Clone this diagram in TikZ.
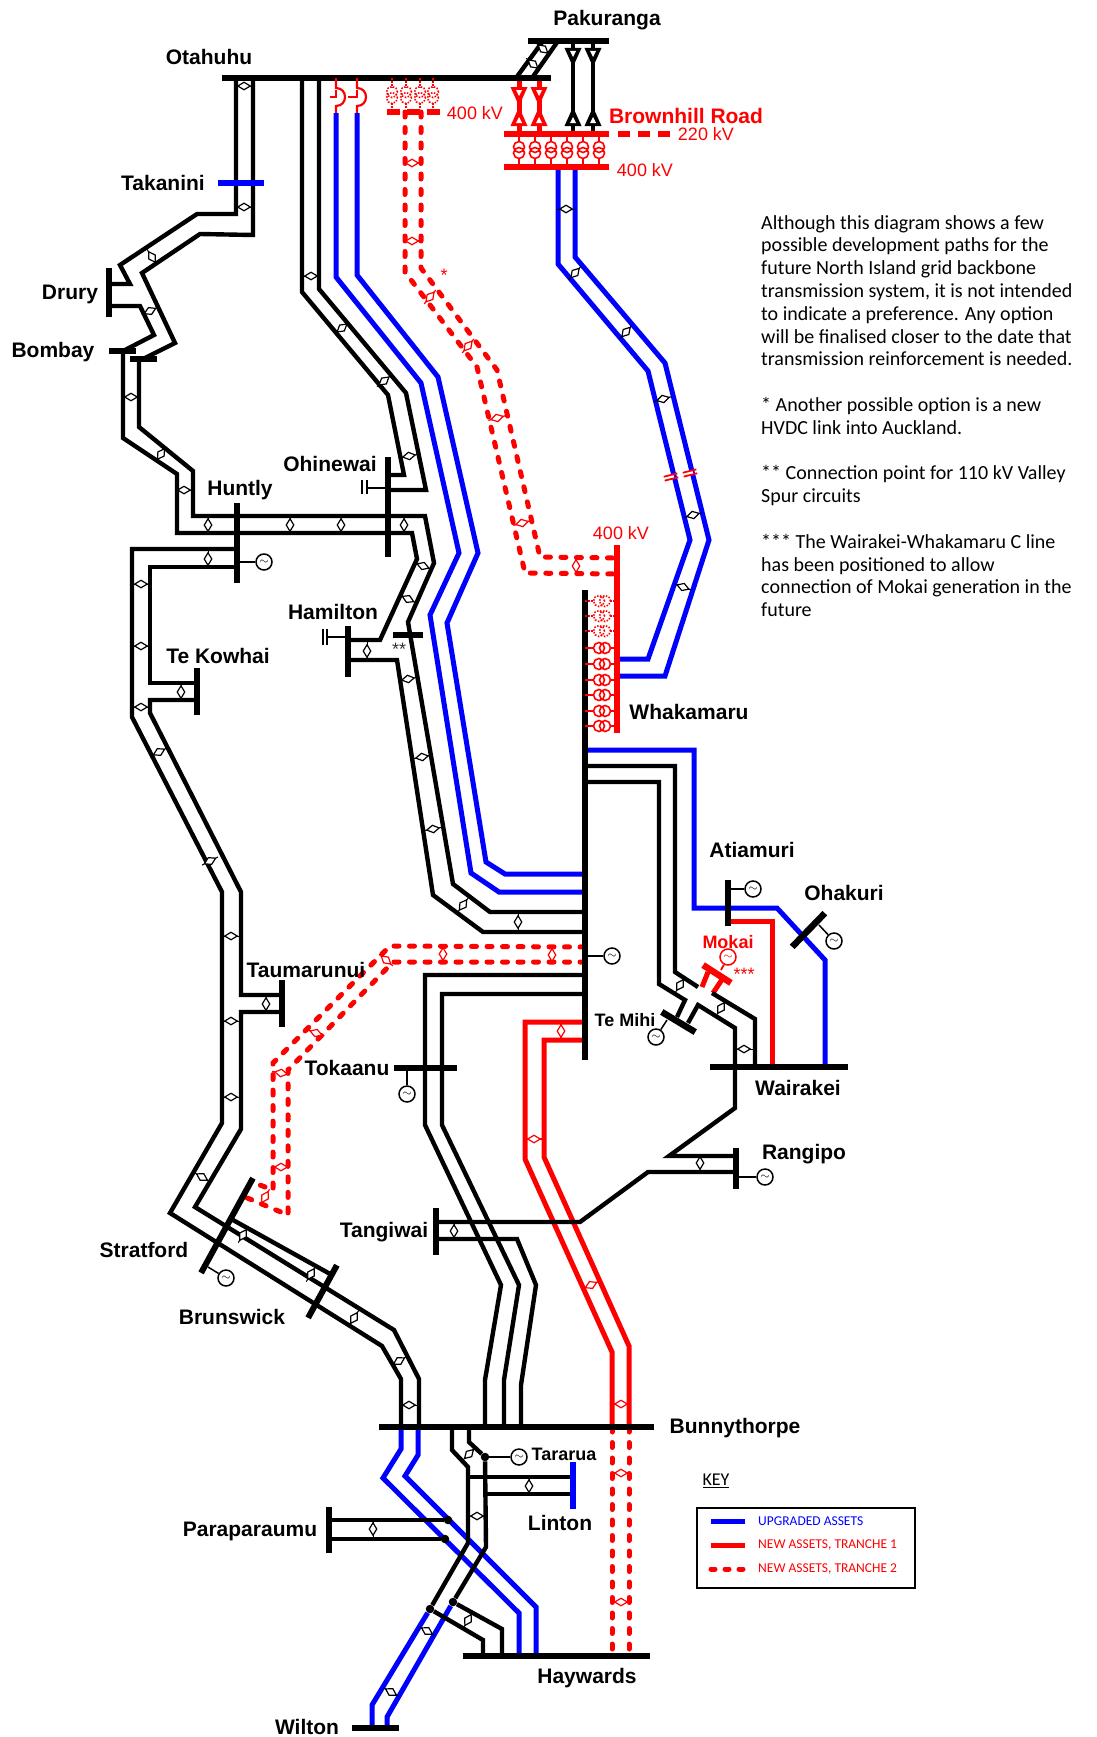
\documentclass[tikz,border=0pt]{standalone}
\usepackage{xcolor}
\usepackage{fontspec}
\setmainfont{Carlito}
\setsansfont{Liberation Sans}
\usetikzlibrary{shapes.geometric, positioning, backgrounds}

\newcommand{\conedown}[3]{\fill[#3] (#1-8.5,#2) -- (#1+8.5,#2) -- (#1,#2+19) -- cycle; \fill[white] (#1-3,#2+3) -- (#1+3,#2+3) -- (#1,#2+9) -- cycle;}
\newcommand{\coneup}[3]{\fill[#3] (#1-8.5,#2) -- (#1+8.5,#2) -- (#1,#2-19) -- cycle; \fill[white] (#1-3,#2-3) -- (#1+3,#2-3) -- (#1,#2-9) -- cycle;}

\begin{document}
\begin{tikzpicture}[
    x=1pt, y=-1pt,
    hbus/.style={fill=black, inner sep=0pt, minimum height=6.5, minimum width=#1},
    vbus/.style={fill=black, inner sep=0pt, minimum width=6.5, minimum height=#1},
    line/.style={line width=4.4, draw=black},
    newup/.style={line width=5, draw=blue},
    newred/.style={line width=5, draw=red},
    newdash/.style={line width=5, draw=red, line cap=round, dash pattern=on 5pt off 10.5pt},
    stub/.style={line width=1.5, draw=black},
    redstub/.style={line width=1.8, draw=red},
    dotstub/.style={line width=1.5, draw=red, dash pattern=on 1.5pt off 1.5pt},
    gen/.style={draw, circle, line width=1.5, fill=white, minimum size=16, inner sep=0pt, font=\fontsize{12}{12}\selectfont},
    xfmr/.style={draw=red, circle, line width=1.6, minimum size=11, inner sep=0pt},
    xfdot/.style={xfmr, dash pattern=on 1.5pt off 1.5pt},
    busdot/.style={circle, fill=black, minimum size=8.5, inner sep=0pt},
    tie/.style={draw=black, fill=white, diamond, shape aspect=1.7, line width=1.2, minimum width=13, minimum height=8, inner sep=0pt},
    place/.style={font=\sffamily\bfseries\fontsize{21}{21}\selectfont, inner sep=0pt},
    small/.style={font=\sffamily\bfseries\fontsize{18}{18}\selectfont, inner sep=0pt},
    volt/.style={font=\sffamily\fontsize{18}{18}\selectfont, text=red, inner sep=0pt},
    keytext/.style={font=\fontsize{13.5}{13.5}\selectfont, anchor=west, inner sep=0pt}
]
\useasboundingbox (0,0) rectangle (1097,1737);

% Buses
\node[hbus=329] (otahuhu) at (386.5,78) {};
\node[hbus=81] (pakuranga) at (568.5,41) {};
\node[hbus=105, fill=red] (brown220) at (556.5,134) {};
\node[hbus=105, fill=red] (brown400) at (556.5,167) {};
\node[hbus=46, fill=blue] (takanini) at (241,183) {};
\node[vbus=49] (drury) at (109,292.5) {};
\node[hbus=27] (bombaya) at (122.5,351) {};
\node[hbus=27] (bombayb) at (143.5,359) {};
\node[vbus=80] (huntly) at (237,543) {};
\node[vbus=100] (ohinewai) at (388,507) {};
\node[vbus=51] (hamilton) at (348,651.5) {};
\node[hbus=30] (valley) at (408,635) {};
\node[vbus=47] (tekowhai) at (197,691.5) {};
\node[vbus=47] (taumarunui) at (282,1003.5) {};
\node[hbus=63] (tokaanu) at (425.5,1068) {};
\node[vbus=47] (tangiwai) at (436,1231.5) {};
\node[vbus=41] (rangipo) at (736,1168.5) {};
\node[vbus=470] (whakamaru) at (585,825) {};
\node[vbus=188, fill=red] (whakared) at (617,639) {};
\node[vbus=46] (atiamuri) at (728,903) {};
\node[hbus=138] (wairakei) at (779,1067) {};
\node[hbus=275] (bunnythorpe) at (516.5,1427) {};
\node[hbus=187] (haywards) at (556.5,1656) {};
\node[vbus=47, fill=blue] (linton) at (573,1485.5) {};
\node[vbus=46] (paraparaumu) at (329,1530) {};
\node[hbus=47] (wilton) at (375.5,1728) {};
\node[hbus=108, rotate=61.3, minimum height=6] (stratford) at (227,1225.5) {};
\node[hbus=60, rotate=61.3, minimum height=6] (brunswick) at (322.5,1291.5) {};
\node[hbus=33, rotate=-32.7, fill=red] (mokai) at (717,974) {};
\node[hbus=39, rotate=-31] (temihi) at (678.5,1022) {};
\node[hbus=47, rotate=45.9] (ohakuri) at (808.5,930) {};
\coordinate (otahuhu400) at (413.5,112);

% Junction dots
\node[busdot] (dotpara) at (448,1520) {};
\node[busdot] (dotparb) at (445,1539) {};
\node[busdot] (dottar) at (485,1457) {};
\node[busdot] (dotwila) at (430,1609) {};
\node[busdot] (dotwilb) at (453,1602) {};

\begin{scope}[on background layer]
% Upgraded assets
\draw[newup] (336,113) -- (336,277) -- (421,383) -- (459,553) -- (430,615) -- (471,873) -- (499,892) -- (whakamaru |- 0,892);
\draw[newup] (357,113) -- (357,275) -- (438,377) -- (478,553) -- (447,623) -- (486,862) -- (505,874) -- (whakamaru |- 0,874);
\draw[newup] (brown400 -| 558,0) -- (558,264) -- (648,371) -- (690,540) -- (648,659) -- (whakared |- 0,659);
\draw[newup] (brown400 -| 575,0) -- (575,257) -- (665,363) -- (709,540) -- (665,676) -- (whakared |- 0,676);
\draw[newup] (whakamaru |- 0,750) -- (694,750) -- (694,908) -- (777,908) -- (825,960) -- (wairakei -| 825,0);
\draw[newup] (bunnythorpe -| 401,0) -- (401,1449) -- (383,1478) -- (519,1613) -- (haywards -| 519,0);
\draw[newup] (bunnythorpe -| 418,0) -- (418,1455) -- (405,1476) -- (536,1607) -- (haywards -| 536,0);
\draw[newup] (dotwila) -- (372,1705) -- (wilton -| 372,0);
\draw[newup] (dotwilb) -- (387,1717) -- (wilton -| 387,0);

% New assets, tranche 1
\draw[newred] (whakamaru |- 0,1022) -- (525,1022) -- (525,1159) -- (612,1352) -- (bunnythorpe -| 612,0);
\draw[newred] (whakamaru |- 0,1040) -- (544,1040) -- (544,1157) -- (629,1346) -- (bunnythorpe -| 629,0);
\draw[newred] (atiamuri |- 0,921) -- (772,921) -- (wairakei -| 772,0);
\draw[newred] (702,987) -- (708,972);
\draw[newred] (713,993) -- (723,978);

% New assets, tranche 2
\draw[newdash] (otahuhu400 -| 405,0) -- (405,272) -- (477,367) -- (525,573) -- (whakared |- 0,574);
\draw[newdash] (otahuhu400 -| 421,0) -- (421,268) -- (497,370) -- (540,557) -- (whakared |- 0,558);
\draw[newdash] (whakamaru |- 0,947) -- (390,946) -- (273,1063) -- (273,1190) -- (252,1182);
\draw[newdash] (whakamaru |- 0,962) -- (393,962) -- (288,1070) -- (288,1215) -- (245,1197);
\draw[newdash] (bunnythorpe -| 612,0) -- (haywards -| 612,0);
\draw[newdash] (bunnythorpe -| 629,0) -- (haywards -| 629,0);

% Existing lines
\draw[line] (otahuhu -| 236,0) -- (236,214) -- (197,214) -- (120,265) -- (130,284) -- (drury |- 0,284);
\draw[line] (otahuhu -| 253,0) -- (253,235) -- (200,234) -- (142,273) -- (175,343) -- (145,358);
\draw[line] (drury |- 0,306) -- (140,306) -- (154,335) -- (125,350);
\draw[line] (bombaya -| 123,0) -- (123,438) -- (177,474) -- (177,533) -- (412,533) -- (417,559) -- (380,640) -- (hamilton |- 0,640);
\draw[line] (bombayb -| 139,0) -- (139,427) -- (193,471) -- (193,516) -- (425,516) -- (434,563) -- (408,622) -- (453,884) -- (490,912) -- (whakamaru |- 0,912);
\draw[line] (hamilton |- 0,660) -- (397,660) -- (433,895) -- (483,932) -- (whakamaru |- 0,932);
\draw[line] (otahuhu -| 302,0) -- (302,292) -- (388,395) -- (404,475) -- (ohinewai |- 0,475);
\draw[line] (otahuhu -| 319,0) -- (319,289) -- (406,393) -- (426,490) -- (ohinewai |- 0,490);
\draw[line] (huntly |- 0,549) -- (132,549) -- (132,717) -- (222,892) -- (222,1123) -- (170,1213) -- (382,1346) -- (401,1379) -- (bunnythorpe -| 401,0);
\draw[line] (huntly |- 0,567) -- (150,567) -- (150,683) -- (tekowhai |- 0,683);
\draw[line] (tekowhai |- 0,700) -- (150,700) -- (150,713) -- (241,892) -- (241,995) -- (taumarunui |- 0,995);
\draw[line] (taumarunui |- 0,1012) -- (241,1012) -- (241,1129) -- (195,1207) -- (394,1330) -- (419,1379) -- (bunnythorpe -| 419,0);
\draw[line] (233,1220) -- (332,1275);
\draw[line] (whakamaru |- 0,975) -- (425,975) -- (425,1125) -- (501,1285) -- (485,1380) -- (bunnythorpe -| 485,0);
\draw[line] (whakamaru |- 0,994) -- (442,994) -- (442,1125) -- (519,1285) -- (504,1380) -- (bunnythorpe -| 504,0);
\draw[line] (tangiwai |- 0,1239) -- (517,1239) -- (536,1285) -- (521,1385) -- (bunnythorpe -| 521,0);
\draw[line] (tangiwai |- 0,1222) -- (580,1222) -- (648,1172) -- (rangipo |- 0,1172);
\draw[line] (rangipo |- 0,1156) -- (669,1156) -- (735,1108) -- (735,1028) -- (698,1005) -- (688,1023);
\draw[line] (whakamaru |- 0,766) -- (675,766) -- (675,972) -- (698,987);
\draw[line] (whakamaru |- 0,782) -- (659,782) -- (659,984) -- (685,1000) -- (677,1017);
\draw[line] (712,993) -- (755,1019) -- (wairakei -| 755,0);
\draw[line] (bunnythorpe -| 452,0) -- (452,1450) -- (468,1467) -- (468,1543) -- (dotwila) -- (483,1640) -- (haywards -| 483,0);
\draw[line] (bunnythorpe -| 469,0) -- (469,1442) -- (dottar) -- (486,1547) -- (dotwilb) -- (502,1629) -- (haywards -| 502,0);
\draw[line] (linton |- 0,1477) -- (467,1477);
\draw[line] (linton |- 0,1494) -- (486,1494);
\draw[line] (paraparaumu |- 0,1520) -- (dotpara);
\draw[line] (paraparaumu |- 0,1539) -- (dotparb);
\draw[line] (pakuranga -| 543,0) -- (516,78);
\draw[line] (pakuranga -| 558,0) -- (532,78);
\draw[line] (pakuranga -| 573,0) -- (brown220 -| 573,0);
\draw[line] (pakuranga -| 593,0) -- (brown220 -| 593,0);
\draw[newred] (otahuhu -| 519,0) -- (brown220 -| 519,0);
\draw[newred] (otahuhu -| 539,0) -- (brown220 -| 539,0);
\end{scope}

% Series devices at Brownhill Road
\conedown{519}{87}{red} \coneup{519}{126}{red}
\conedown{539}{87}{red} \coneup{539}{126}{red}
\conedown{573}{48}{black} \coneup{573}{126}{black}
\conedown{593}{48}{black} \coneup{593}{126}{black}

% Planned bus sections
\draw[red, line width=6, dash pattern=on 13pt off 7pt] (387,112) -- (440,112);
\draw[red, line width=6, dash pattern=on 12pt off 8pt] (618,134) -- (672,134);

% Reactors into Otahuhu
\foreach \x/\t in {336/330,357/348} {
    \draw[redstub, line width=2.2] (otahuhu -| \x,0) -- (\x,88) .. controls (\x+12,88) and (\x+12,106) .. (\x,106) -- (\x,113);
    \draw[redstub, line width=2.2] (\t,97) -- (\x,97) -- (\x,90);
}

% Transformers
\foreach \x [count=\i] in {519,535,551,567,583,599} {
    \draw[redstub] (brown220 -| \x,0) -- (\x,142) (\x,158) -- (brown400 -| \x,0);
    \node[xfmr] (xfa\i) at (\x,147) {};
    \node[xfmr, fill=none] (xfb\i) at (\x,153) {};
}
\foreach \y [count=\i] in {648,664,680,695,711,726} {
    \draw[redstub] (whakamaru |- 0,\y) -- (594,\y) (610,\y) -- (whakared |- 0,\y);
    \node[xfmr] (xfc\i) at (599,\y) {};
    \node[xfmr, fill=none] (xfd\i) at (605,\y) {};
}
\foreach \x [count=\i] in {392,406,420,433} {
    \draw[dotstub] (otahuhu -| \x,0) -- (\x,88) (\x,103) -- (\x,109);
    \node[xfdot] (xfe\i) at (\x,92) {};
    \node[xfdot] (xff\i) at (\x,98) {};
}
\foreach \y [count=\i] in {601,616,631} {
    \draw[dotstub] (whakamaru |- 0,\y) -- (594,\y) (610,\y) -- (whakared |- 0,\y);
    \node[xfdot] (xfg\i) at (599,\y) {};
    \node[xfdot] (xfh\i) at (605,\y) {};
}

% Capacitors
\draw[stub] (ohinewai |- 0,488) -- (367,488);
\draw[line width=2.5] (362,480) -- (362,494) (367,480) -- (367,494);
\draw[stub] (hamilton |- 0,637) -- (327,637);
\draw[line width=2.5] (323,629) -- (323,645) (327,629) -- (327,645);
\foreach \x/\y in {671/477,690/473} {
    \begin{scope}[shift={(\x,\y)}, rotate=14]
        \fill[white] (-3,-2) rectangle (3,2);
        \draw[redstub] (-7,-2) -- (7,-2) (-7,2) -- (7,2);
    \end{scope}
}

% Generators
\node[gen] (genhuntly) at (264,562) {$\sim$};
\draw[stub] (huntly) -- (huntly |- genhuntly) -- (genhuntly);
\node[gen] (genrangipo) at (765,1177) {$\sim$};
\draw[stub] (rangipo |- genrangipo) -- (genrangipo);
\node[gen] (genwhaka) at (612,956) {$\sim$};
\draw[stub] (whakamaru |- genwhaka) -- (genwhaka);
\node[gen] (gentoka) at (407,1094) {$\sim$};
\draw[stub] (tokaanu -| gentoka) -- (gentoka);
\node[gen] (genstrat) at (226,1278) {$\sim$};
\draw[stub] (208,1267) -- (genstrat);
\node[gen] (genmihi) at (656,1037) {$\sim$};
\draw[stub] (667,1020) -- (genmihi);
\node[gen] (genatia) at (753,889) {$\sim$};
\draw[stub] (atiamuri |- genatia) -- (genatia);
\node[gen] (genohak) at (834,941) {$\sim$};
\draw[stub] (819,925) -- (genohak);
\node[gen, draw=red, text=red] (genmokai) at (728,957) {$\sim$};
\draw[redstub] (721,970) -- (genmokai);
\node[gen] (gentara) at (519,1457) {$\sim$};
\draw[stub] (dottar) -- (gentara);

% Circuit ties
\foreach \x/\y/\a [count=\i] in {
    543/49/-40, 533/64/-40, 244/86/0, 244/207/0, 152/257/-57, 150/311/25, 131/397/0, 161/454/56, 184/490/0,
    208/525/90, 290/525/90, 341/525/90, 404/525/90, 208/559/90, 141/584/0, 141/646/0, 181/692/90, 141/707/0,
    159/752/27, 210/861/27, 231/936/0, 266/1004/90, 231/1021/0, 231/1097/0, 202/1177/-30, 243/1235/58,
    311/1274/58, 354/1318/58, 409/1405/0, 399/1361/30, 311/276/0, 342/328/39, 384/381/39, 409/456/10,
    423/566/-20, 408/599/-25, 367/651/90, 408/679/10, 422/757/10, 433/829/10, 463/905/54, 518/922/90,
    680/985/58, 721/1008/58, 744/1049/0, 700/1163/90, 454/1231/90, 469/1454/45, 529/1486/90, 477/1516/0,
    373/1529/90, 468/1620/60, 427/1631/-30, 391/1692/-30, 566/209/0, 575/273/48, 626/332/48, 663/399/15,
    693/515/15, 683/587/-20} {
    \draw[stub, line width=1, rotate around={\a:(\x,\y)}] (\x-9,\y) -- (\x+9,\y);
    \node[tie, rotate=\a] (tie\i) at (\x,\y) {};
}
\foreach \x/\y/\a [count=\i] in {
    412/163/0, 412/241/0, 430/297/50, 468/346/50, 497/418/15, 522/523/15, 576/566/90, 552/955/90, 443/954/90,
    386/960/-40, 316/1033/-20, 281/1073/-10, 281/1167/0, 265/1197/60, 561/1031/90, 534/1139/0, 591/1285/25,
    621/1404/0, 621/1473/0, 621/1602/0} {
    \draw[redstub, line width=1.2, rotate around={\a:(\x,\y)}] (\x-9,\y) -- (\x+9,\y);
    \node[tie, draw=red, rotate=\a] (tier\i) at (\x,\y) {};
}

% Labels
\node[place] (lblpakuranga) at (607,20) {Pakuranga};
\node[place] (lblotahuhu) at (209,57) {Otahuhu};
\node[place, text=red] (lblbrown) at (686,116) {Brownhill Road};
\node[volt] (lblvolta) at (475,113) {400 kV};
\node[volt] (lblvoltb) at (706,134) {220 kV};
\node[volt] (lblvoltc) at (645,170) {400 kV};
\node[volt] (lblvoltd) at (621,533) {400 kV};
\node[place] (lbltakanini) at (163,183) {Takanini};
\node[place] (lbldrury) at (70,294) {Drury};
\node[place] (lblbombay) at (53,352) {Bombay};
\node[place] (lblhuntly) at (240,490) {Huntly};
\node[place] (lblohinewai) at (330,464) {Ohinewai};
\node[place] (lblhamilton) at (333,612) {Hamilton};
\node[place] (lbltekowhai) at (218,656) {Te Kowhai};
\node[place] (lblwhakamaru) at (689,712) {Whakamaru};
\node[place] (lblatiamuri) at (752,850) {Atiamuri};
\node[place] (lblohakuri) at (844,893) {Ohakuri};
\node[small, text=red] (lblmokai) at (728,942) {Mokai};
\node[small] (lbltemihi) at (625,1020) {Te Mihi};
\node[place] (lblwairakei) at (798,1088) {Wairakei};
\node[place] (lblrangipo) at (804,1154) {Rangipo};
\node[place] (lbltaumarunui) at (306,970) {Taumarunui};
\node[place] (lbltokaanu) at (347,1068) {Tokaanu};
\node[place] (lbltangiwai) at (384,1232) {Tangiwai};
\node[place] (lblstratford) at (144,1250) {Stratford};
\node[place] (lblbrunswick) at (232,1317) {Brunswick};
\node[place] (lblbunny) at (735,1428) {Bunnythorpe};
\node[small] (lbltararua) at (564,1454) {Tararua};
\node[place] (lbllinton) at (560,1523) {Linton};
\node[place] (lblpara) at (250,1531) {Paraparaumu};
\node[place] (lblhaywards) at (587,1678) {Haywards};
\node[place] (lblwilton) at (307,1727) {Wilton};
\node[volt, text=red] (lblstar) at (444,275) {*};
\node[volt, text=black!80] (lblstars) at (399,649) {**};
\node[volt, text=red] (lblstarm) at (744,974) {***};

% Notes
\node[anchor=north west, align=left, inner sep=0pt, font=\fontsize{20}{22.8}\selectfont] (notes) at (761,215) {%
Although this diagram shows a few\\
possible development paths for the\\
future North Island grid backbone\\
transmission system, it is not intended\\
to indicate a preference.  Any option\\
will be finalised closer to the date that\\
transmission reinforcement is needed.\\
~\\
* Another possible option is a new\\
HVDC link into Auckland.\\
~\\
** Connection point for 110 kV Valley\\
Spur circuits\\
~\\
*** The Wairakei-Whakamaru C line\\
has been positioned to allow\\
connection of Mokai generation in the\\
future};

% Key
\node[font=\fontsize{18}{18}\selectfont, inner sep=0pt] (keytitle) at (716,1481) {\underline{KEY}};
\node[draw, line width=1.3, minimum width=218, minimum height=80, inner sep=0pt] (keybox) at (806,1548) {};
\coordinate (keya) at (711,1521);
\coordinate (keyb) at (711,1545);
\coordinate (keyc) at (711,1569);
\draw[newup] (keya) -- ++(34,0);
\draw[newred] (keyb) -- ++(34,0);
\draw[newdash, dash pattern=on 4pt off 10pt] (keyc) -- ++(34,0);
\node[keytext, text=blue] (keytexta) at (758,1521) {UPGRADED ASSETS};
\node[keytext, text=red] (keytextb) at (758,1545) {NEW ASSETS, TRANCHE 1};
\node[keytext, text=red] (keytextc) at (758,1569) {NEW ASSETS, TRANCHE 2};

\end{tikzpicture}
\end{document}
